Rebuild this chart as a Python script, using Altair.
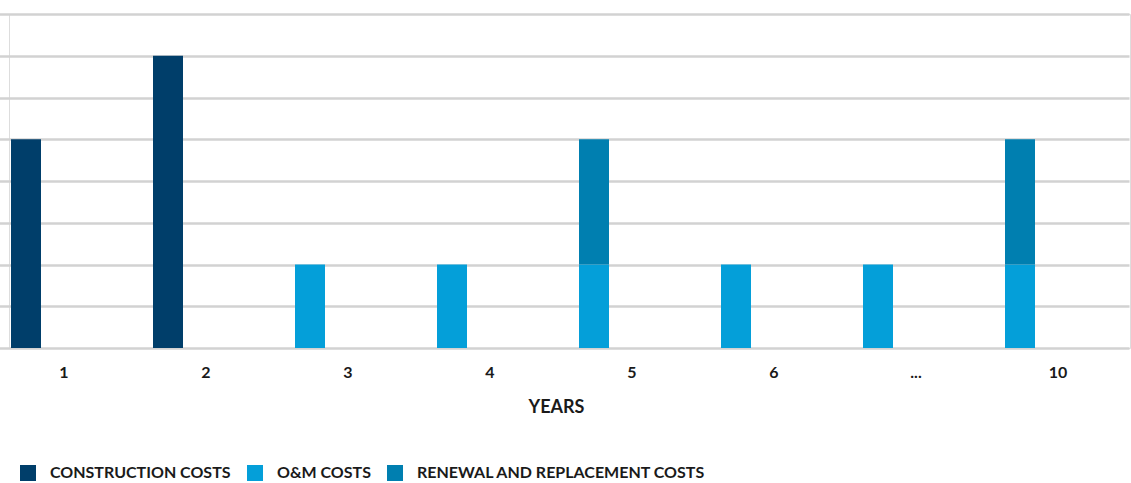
import altair as alt
import pandas as pd

years = ["1", "2", "3", "4", "5", "6", "...", "10"]
construction = [5, 7, 0, 0, 0, 0, 0, 0]
om = [0, 0, 2, 2, 2, 2, 2, 2]
renewal = [0, 0, 0, 0, 3, 0, 0, 3]

series = ["CONSTRUCTION COSTS", "O&M COSTS", "RENEWAL AND REPLACEMENT COSTS"]
colors = ["#003e6a", "#049fd9", "#007fb0"]

rows = []
for i, y in enumerate(years):
    for k, vals in enumerate([construction, om, renewal]):
        if vals[i] > 0:
            rows.append({"year": y, "series": series[k], "value": vals[i], "ord": k})
df = pd.DataFrame(rows)

FONT = "Lato"

chart = alt.Chart(df).mark_bar(size=30, xOffset=-38).encode(
    x=alt.X("year:N", sort=years,
            scale=alt.Scale(domain=years, paddingInner=0, paddingOuter=0, range=[-16, 1120]),
            axis=alt.Axis(title="YEARS", labelAngle=0, ticks=False, domain=False, grid=False,
                          labelFont=FONT, labelFontWeight="bold", labelFontSize=16,
                          labelColor="#1a1a1a", labelPadding=16,
                          titleFont=FONT, titleFontWeight="bold", titleFontSize=18,
                          titleColor="#1a1a1a", titleX=547, titleY=50, titleAlign="center")),
    y=alt.Y("value:Q", stack="zero",
            scale=alt.Scale(domain=[0, 8], nice=False),
            axis=alt.Axis(title=None, labels=False, ticks=False, domain=False,
                          values=[0, 1, 2, 3, 4, 5, 6, 7, 8],
                          grid=True, gridColor="#d2d2d2", gridWidth=2.5)),
    color=alt.Color("series:N", scale=alt.Scale(domain=series, range=colors),
                    legend=alt.Legend(title=None, orient="none", direction="horizontal",
                                      legendX=11, legendY=451, symbolType="square",
                                      symbolSize=256, symbolStrokeWidth=0,
                                      labelFont=FONT, labelFontWeight="bold",
                                      labelFontSize=16, labelColor="#1a1a1a",
                                      labelLimit=500,
                                      labelOffset=14, columnPadding=16, padding=0)),
    order=alt.Order("ord:Q", sort="ascending"),
).properties(
    width=1121, height=334,
    autosize=alt.AutoSizeParams(type="none"),
    padding={"left": 9, "top": 14, "right": 1, "bottom": 135},
).configure_view(strokeWidth=0).configure(background="white")

chart.save("out.html", embed_options={"renderer": "svg", "actions": False})
